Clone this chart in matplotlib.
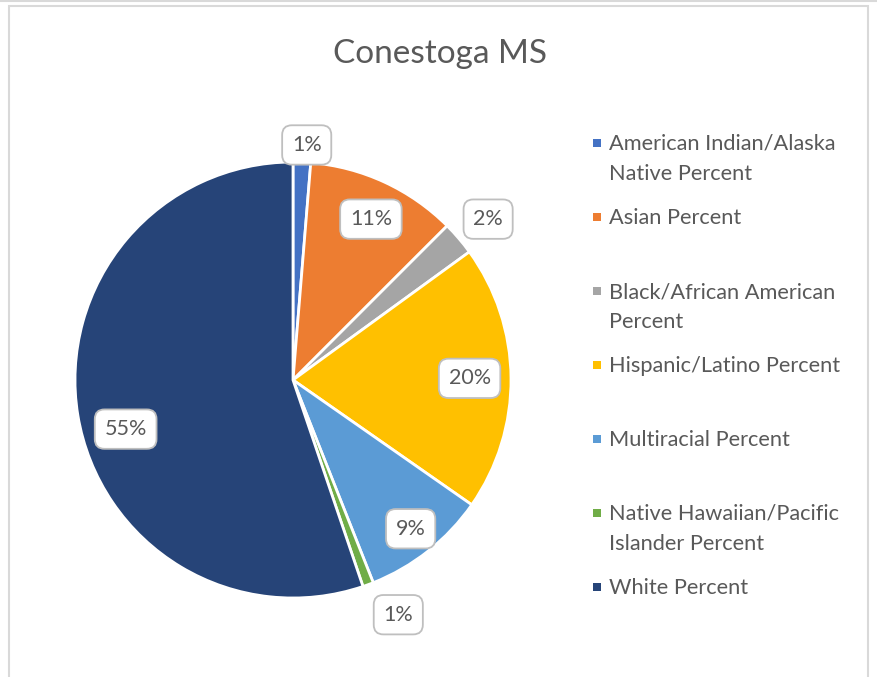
import matplotlib
matplotlib.use("Agg")
import matplotlib.pyplot as plt
import numpy as np
from matplotlib.patches import Rectangle
from matplotlib.lines import Line2D

title = "Conestoga MS"
categories = [
    "American Indian/Alaska\nNative Percent",
    "Asian Percent",
    "Black/African American\nPercent",
    "Hispanic/Latino Percent",
    "Multiracial Percent",
    "Native Hawaiian/Pacific\nIslander Percent",
    "White Percent",
]
values = [1.3, 11.2, 2.5, 19.7, 9.3, 0.8, 55.2]
colors = ["#4472C4", "#ED7D31", "#A5A5A5", "#FFC000", "#5B9BD5", "#70AD47", "#264478"]
label_dist = [1.08, 0.82, 1.16, 0.81, 0.87, 1.18, 0.80]
label_angle_shift = [1.0, 1.0, 1.0, 0.0, 0.0, -4.0, -7.0]

plt.rcParams['font.family'] = ['Lato', 'DejaVu Sans']
W, H = 877, 677
fig = plt.figure(figsize=(W / 100, H / 100), dpi=100)
fig.patch.set_facecolor("white")

# chart border
fig.add_artist(Line2D([0, 1], [1 - 0.5 / H, 1 - 0.5 / H], color="#D9D9D9", lw=1.5, transform=fig.transFigure))
fig.add_artist(Rectangle((9 / W, -0.1), (868 - 9) / W, (677 - 6) / H + 0.1, transform=fig.transFigure,
                         fill=False, edgecolor="#D9D9D9", lw=1.5))

cx, cy, R = 293, 380, 218
ax = fig.add_axes([(cx - R) / W, (H - cy - R) / H, 2 * R / W, 2 * R / H])
ax.set_aspect("equal")
wedges, _ = ax.pie(values, colors=colors, startangle=90, counterclock=False,
                   wedgeprops=dict(edgecolor="white", linewidth=2), radius=1.0)
ax.set_xlim(-1, 1)
ax.set_ylim(-1, 1)
ax.axis("off")

total = sum(values)
cum = 0
for v, d, sh in zip(values, label_dist, label_angle_shift):
    mid = (cum + v / 2) / total * 360 + sh
    cum += v
    th = np.deg2rad(90 - mid)
    ax.text(d * np.cos(th), d * np.sin(th), f"{round(v / total * 100):.0f}%",
            ha="center", va="center", fontsize=15.5, color="#595959", zorder=5,
            bbox=dict(boxstyle="round,pad=0.45,rounding_size=0.45", fc="white", ec="#BFBFBF", lw=1.3))

fig.text(440 / W, 1 - 54 / H, title, ha="center", va="center", fontsize=24, color="#595959")

# legend
y0, step = 143, 74
for i, (c, col) in enumerate(zip(categories, colors)):
    y = y0 + i * step
    fig.add_artist(Rectangle((593 / W, 1 - (y + 4) / H), 8 / W, 8 / H, transform=fig.transFigure,
                             facecolor=col, edgecolor="none"))
    fig.text(609 / W, 1 - (y - 9) / H, c, ha="left", va="top", fontsize=15.7, color="#595959",
             linespacing=1.62)

fig.savefig("out.png", dpi=100)
